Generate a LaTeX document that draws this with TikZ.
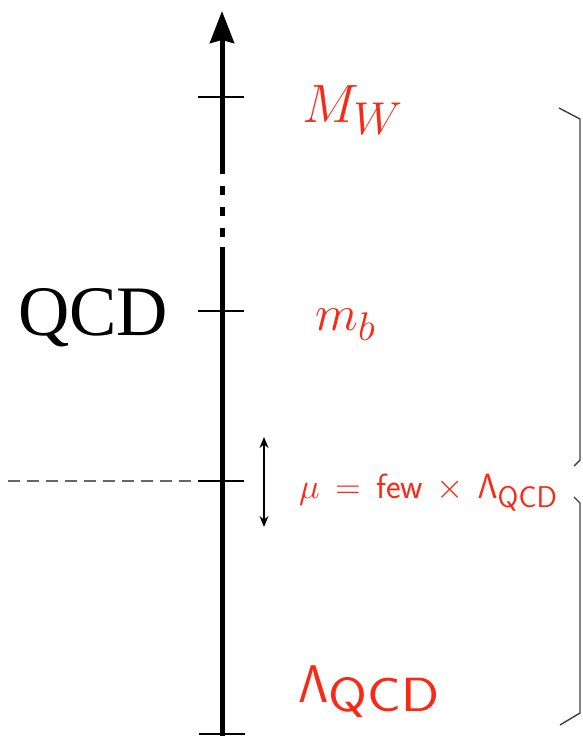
\RequirePackage{fix-cm}
\documentclass[tikz,border=0pt]{standalone}
\usepackage[no-math]{fontspec}
\newfontfamily\qcdfont{Liberation Serif}
\usetikzlibrary{arrows.meta}
\definecolor{lred}{RGB}{250,40,20}
\begin{document}
\begin{tikzpicture}[x=1pt,y=-1pt,
  axis/.style={line width=5pt},
  tick/.style={line width=2.6pt},
  lbl/.style={text=lred,inner sep=0pt,anchor=base west},
  brc/.style={line width=1.4pt,draw=black!75,line join=round}]
\useasboundingbox (0,0) rectangle (582,736);
% axis
\coordinate (bot) at (222,736);
\coordinate (gapA) at (222,247);
\coordinate (gapB) at (222,174);
\coordinate (top) at (222,11);
\draw[axis] (bot) -- (gapA);
\draw[axis,-{Stealth[length=32pt,width=24pt,inset=3pt]}] (gapB) -- (top);
\draw[axis,dash pattern=on 9pt off 12pt] (222,186) -- (222,247);
% ticks
\coordinate (t1l) at (198,97); \coordinate (t1r) at (244,97);
\coordinate (t2l) at (198,311); \coordinate (t2r) at (244,311);
\coordinate (t3l) at (198,481); \coordinate (t3r) at (244,481);
\coordinate (t4l) at (199,734); \coordinate (t4r) at (245,734);
\draw[tick] (t1l) -- (t1r);
\draw[tick] (t2l) -- (t2r);
\draw[tick] (t3l) -- (t3r);
\draw[tick] (t4l) -- (t4r);
% dashed line
\coordinate (dl) at (8,481);
\draw[line width=2pt,draw=black!60,dash pattern=on 12pt off 7pt] (dl) -- (t3l);
% double arrow
\coordinate (da) at (264,437);
\coordinate (db) at (264,527);
\draw[line width=1.6pt,{Stealth[length=11pt,width=9pt]}-{Stealth[length=11pt,width=9pt]}] (da) -- (db);
% labels
\node[lbl,font=\fontsize{54}{60}\selectfont] (mw) at (302,122) {$M_{\mbox{\fontsize{46}{50}\selectfont$W$}}$};
\node[lbl,font=\fontsize{50}{56}\selectfont] (mb) at (315,330) {$m_{\mbox{\fontsize{40}{44}\selectfont$b$}}$};
\node[inner sep=0pt,anchor=base west,font=\qcdfont\fontsize{71}{76}\selectfont] (qcd) at (18,335) {QCD};
\node[lbl,font=\fontsize{35}{40}\selectfont] (mu) at (299,498) {$\mu \,=\, \textsf{few} \,\times\, \mathsf{\Lambda}_{\mbox{\fontsize{30}{32}\selectfont\sffamily QCD}}$};
\node[lbl,font=\fontsize{53}{60}\selectfont] (lq) at (298,702) {$\mathsf{\Lambda}$\raisebox{-9pt}{\scalebox{1.17}[1]{\fontsize{48}{52}\selectfont\sffamily QCD}}};
% braces (their cusps lie beyond the right edge)
\draw[brc] (559,108) -- (580,119) -- (580,460) -- (574,466);
\draw[brc] (574,497) -- (580,503) -- (580,713) -- (560,725);
\end{tikzpicture}
\end{document}
